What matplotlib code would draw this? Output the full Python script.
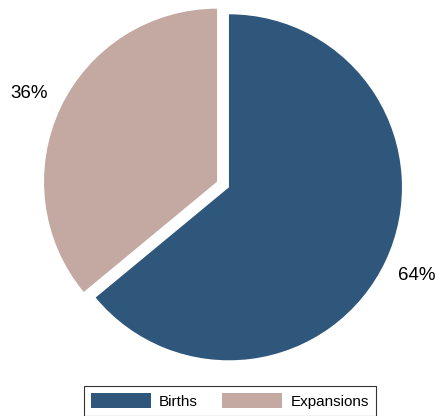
import numpy as np
import matplotlib.pyplot as plt
from matplotlib.patches import Patch

## data
labels = ['Births', 'Expansions']
shares = [64, 36]
colors = ['#2f577c', '#c4a8a2']

plt.rcParams['font.family'] = ['Liberation Sans', 'DejaVu Sans']

W, H, dpi = 437, 416, 100
fig = plt.figure(figsize=(W/dpi, H/dpi), dpi=dpi)
ax = fig.add_axes([0, 0, 1, 1])

wedges, texts = ax.pie(shares, colors=colors, startangle=90, counterclock=False,
                       explode=[0.038, 0.038], labels=['%d%%' % s for s in shares],
                       labeldistance=1.2, textprops={'fontsize': 13.5},
                       wedgeprops={'linewidth': 0})
for t in texts:
    t.set_ha('center')
    t.set_va('center')

## place the pie: centre (223, 184.5) px from top-left, radius 173 px
cx, cy, r = 223.0, 184.5, 173.0
ax.set_xlim(-cx/r, (W-cx)/r)
ax.set_ylim(-(H-cy)/r, cy/r)
ax.set_aspect('auto')
ax.axis('off')

handles = [Patch(facecolor=c, edgecolor='none') for c in colors]
leg = fig.legend(handles, labels, ncol=2, loc='center',
                 bbox_to_anchor=(230/W, 1-401/H), fontsize=11,
                 frameon=True, fancybox=False, edgecolor='black',
                 handlelength=3.9, handleheight=1.1, handletextpad=0.55,
                 columnspacing=1.6, borderpad=0.45, borderaxespad=0)
leg.get_frame().set_linewidth(0.8)

fig.savefig('out.png', dpi=dpi)
